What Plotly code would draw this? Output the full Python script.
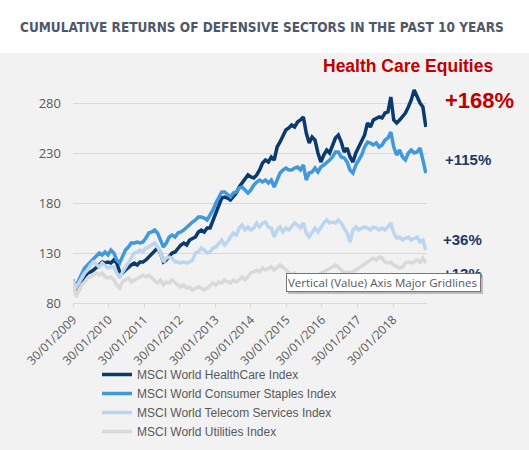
import pandas as pd
import plotly.graph_objects as go

# ---- data ----
start_date = "2009-01-30"
end_date = "2018-12-31"

series_names = [
    "MSCI World HealthCare Index",
    "MSCI World Consumer Staples Index",
    "MSCI World Telecom Services Index",
    "MSCI World Utilities Index",
]
series_colors = ["#0b3a6e", "#4198db", "#bcd6ee", "#d9d9d9"]

healthcare = [103, 90, 93, 100, 106, 110, 111, 113, 115, 118, 121, 120, 121, 120, 123, 120, 111, 110,
              113, 116, 118, 120, 118, 121, 121, 123, 126, 130, 133, 135, 130, 121, 123, 126, 130, 131,
              135, 138, 140, 138, 143, 145, 146, 151, 153, 151, 155, 155, 163, 171, 178, 185, 186, 185,
              183, 186, 190, 196, 200, 205, 208, 206, 205, 208, 213, 220, 223, 221, 226, 223, 236, 241,
              248, 253, 255, 258, 256, 261, 263, 266, 250, 240, 246, 243, 230, 221, 228, 233, 230, 238,
              245, 248, 241, 231, 235, 226, 221, 230, 236, 241, 248, 260, 256, 263, 265, 266, 265, 270,
              271, 286, 263, 260, 263, 266, 270, 276, 283, 293, 286, 280, 276, 256]

staples = [100, 96, 103, 110, 115, 118, 121, 125, 128, 130, 128, 131, 128, 133, 130, 123, 120, 126,
           133, 136, 140, 140, 141, 140, 141, 145, 150, 151, 153, 150, 143, 136, 140, 146, 148, 146,
           150, 151, 153, 156, 158, 161, 163, 166, 166, 165, 163, 168, 173, 180, 186, 191, 191, 188,
           186, 190, 191, 195, 196, 193, 190, 193, 198, 201, 203, 201, 203, 200, 203, 196, 203, 210,
           213, 215, 213, 213, 215, 216, 213, 218, 203, 210, 211, 215, 211, 216, 218, 220, 223, 226,
           231, 231, 226, 225, 221, 213, 210, 218, 223, 228, 236, 241, 240, 238, 240, 236, 238, 243,
           245, 251, 236, 228, 233, 226, 223, 230, 233, 230, 231, 235, 223, 210]

telecom = [100, 96, 100, 106, 110, 113, 118, 121, 118, 116, 120, 118, 115, 116, 116, 110, 105, 111,
           116, 121, 126, 130, 131, 133, 131, 135, 136, 138, 140, 136, 130, 121, 125, 126, 125, 121,
           121, 120, 121, 120, 121, 123, 130, 131, 135, 133, 130, 131, 135, 136, 140, 143, 138, 141,
           146, 150, 148, 155, 158, 153, 156, 153, 155, 160, 156, 160, 161, 156, 155, 146, 153, 156,
           151, 155, 153, 156, 160, 158, 155, 160, 150, 146, 151, 155, 151, 156, 160, 163, 160, 161,
           160, 163, 160, 155, 150, 141, 153, 156, 153, 155, 156, 155, 153, 156, 155, 153, 155, 153,
           156, 160, 150, 145, 146, 143, 145, 146, 143, 145, 146, 141, 143, 133]

utilities = [103, 86, 93, 98, 101, 105, 106, 108, 110, 108, 110, 106, 105, 106, 103, 98, 95, 101,
             103, 105, 101, 103, 105, 106, 108, 106, 108, 105, 103, 100, 103, 98, 101, 100, 103, 100,
             98, 96, 98, 95, 96, 93, 95, 96, 95, 93, 95, 98, 100, 98, 101, 100, 103, 101,
             100, 103, 101, 103, 106, 103, 106, 110, 111, 113, 111, 115, 113, 115, 116, 113, 116, 118,
             116, 113, 110, 108, 110, 106, 105, 106, 103, 105, 106, 105, 108, 110, 111, 113, 115, 116,
             118, 116, 113, 110, 111, 110, 111, 113, 116, 118, 120, 121, 123, 125, 123, 126, 125, 121,
             120, 121, 118, 116, 115, 116, 120, 121, 120, 121, 123, 121, 125, 120]

series_values = [healthcare, staples, telecom, utilities]

tick_dates = ["%d-01-30" % y for y in range(2009, 2019)]
tick_labels = ["30/01/%d" % y for y in range(2009, 2019)]
y_ticks = [80, 130, 180, 230, 280]

title_text = "CUMULATIVE RETURNS OF DEFENSIVE SECTORS IN THE PAST 10 YEARS"
subtitle_text = "Health Care Equities"
end_labels = ["+168%", "+115%", "+36%", "+13%"]
end_label_y = [283, 224, 144, 110]
tooltip_text = "Vertical (Value) Axis Major Gridlines"

# ---- figure ----
dates = pd.date_range(start_date, end_date, periods=len(healthcare))

fig = go.Figure()
for name, color, vals in zip(series_names, series_colors, series_values):
    fig.add_trace(go.Scatter(x=dates, y=vals, mode="lines", name=name,
                             line=dict(color=color, width=3.5)))

W, H = 529, 450
ml, mr, mt, mb = 73, 102, 83, 147

def py(pix):
    return (303 - pix) / 220.0

def px(pix):
    return (pix - 73) / 354.0

fig.update_layout(
    width=W, height=H,
    margin=dict(l=ml, r=mr, t=mt, b=mb, pad=0, autoexpand=False),
    paper_bgcolor="#f2f2f2",
    plot_bgcolor="#f2f2f2",
    showlegend=True,
    legend=dict(x=px(97), y=py(360), xanchor="left", yanchor="top",
                font=dict(family="Liberation Sans, Arial, sans-serif", size=12, color="#595959"),
                bgcolor="rgba(0,0,0,0)", tracegroupgap=0, itemwidth=30),
    xaxis=dict(type="date", range=["2009-01-30", "2019-01-12"], automargin=False,
               tickmode="array", tickvals=tick_dates, ticktext=tick_labels,
               tickangle=-45, showgrid=False, showline=True, linecolor="#d9d9d9", linewidth=1,
               ticks="outside", ticklen=4, tickcolor="#d9d9d9",
               tickfont=dict(family="Open Sans, sans-serif", size=12, color="#595959"),
               zeroline=False, fixedrange=True),
    yaxis=dict(range=[80, 300], tickmode="array", tickvals=y_ticks, automargin=False,
               showgrid=True, gridcolor="#d9d9d9", gridwidth=1, zeroline=False,
               showline=False, ticks="", ticklabelstandoff=11,
               tickfont=dict(family="Open Sans, sans-serif", size=13, color="#595959"),
               fixedrange=True),
    shapes=[dict(type="rect", xref="paper", yref="paper",
                 x0=-ml / 354.0 - 0.01, x1=1 + mr / 354.0 + 0.01,
                 y0=py(53), y1=py(-10),
                 fillcolor="white", line=dict(width=0), layer="below")],
)

annotations = [
    dict(text="<b>" + title_text + "</b>", x=px(262), y=py(27), xref="paper", yref="paper",
         showarrow=False, xanchor="center", yanchor="middle",
         font=dict(family="DejaVu Sans Condensed, sans-serif", size=13.5, color="#4f5868")),
    dict(text="<b>" + subtitle_text + "</b>", x=px(408), y=py(66), xref="paper", yref="paper",
         showarrow=False, xanchor="center", yanchor="middle",
         font=dict(family="Liberation Sans, Arial, sans-serif", size=17.5, color="#c00000")),
]
end_colors = ["#c00000", "#1f3864", "#1f3864", "#1f3864"]
end_sizes = [22, 15, 15, 15]
end_x = [479, 468, 462, 462]
for t, yv, c, s, xx in zip(end_labels, end_label_y, end_colors, end_sizes, end_x):
    annotations.append(dict(text="<b>" + t + "</b>", x=px(xx), y=yv, xref="paper", yref="y",
                            showarrow=False, xanchor="center", yanchor="middle",
                            font=dict(family="Liberation Sans, Arial, sans-serif", size=s, color=c)))
# tooltip shadow and tooltip box
annotations.append(dict(text=" ", x=px(288), y=py(275), xref="paper", yref="paper",
                        showarrow=False, xanchor="left", yanchor="top", width=193, height=17,
                        bgcolor="rgba(120,120,120,0.45)", borderpad=1, borderwidth=0))
annotations.append(dict(text=tooltip_text, x=px(286), y=py(273), xref="paper", yref="paper",
                        showarrow=False, xanchor="left", yanchor="top", width=191, height=15,
                        align="left", valign="middle",
                        bgcolor="white", bordercolor="#767676", borderwidth=1, borderpad=1,
                        font=dict(family="Open Sans, sans-serif", size=11.5, color="#575757")))
fig.update_layout(annotations=annotations)

fig.write_html("out.html", config={"displayModeBar": False},
               post_script="document.body.style.margin='0';")
